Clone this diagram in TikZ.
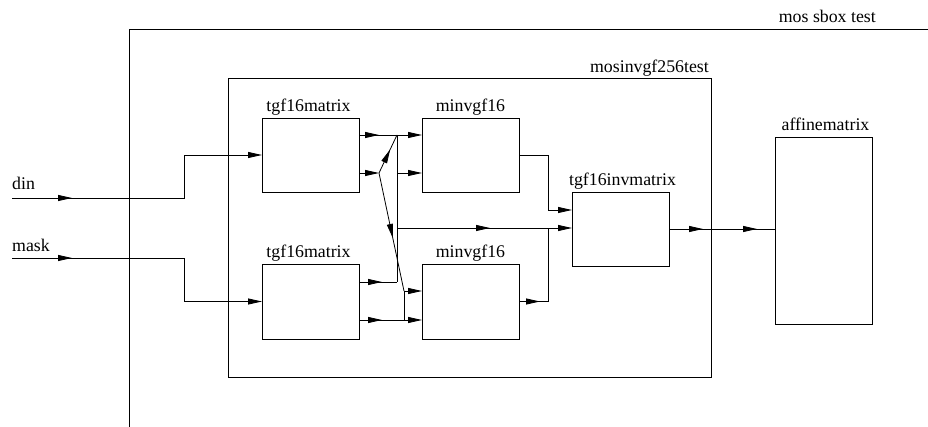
\documentclass[tikz,border=0pt]{standalone}
\usepackage{fontspec}
\setmainfont{Liberation Serif}
\usetikzlibrary{arrows.meta,decorations.markings,calc}
\begin{document}
\begin{tikzpicture}[x=1pt,y=-1pt,
 blk/.style={draw,line width=0.9pt,minimum width=97pt,minimum height=74pt,inner sep=0pt,outer sep=0pt},
 lbl/.style={font=\fontsize{17.8}{21}\selectfont,inner sep=0pt},
 wire/.style={line width=0.8pt},
 ahead/.tip={Triangle[length=14pt,width=6pt]},
 endarr/.style={-ahead},
 am/.style={postaction={decorate},decoration={markings,mark=at position #1 with {\arrow{ahead}}}},
 amm/.style 2 args={postaction={decorate},decoration={markings,mark=at position #1 with {\arrow{ahead}},mark=at position #2 with {\arrow{ahead}}}}
]
\useasboundingbox (0,0) rectangle (928,427);
% frames
\node[draw,line width=0.9pt,anchor=north west,minimum width=900pt,minimum height=500pt,inner sep=0pt] (outer) at (129,29) {};
\node[draw,line width=0.9pt,minimum width=483pt,minimum height=299pt,inner sep=0pt] (mos) at (469.5,227.5) {};
% blocks
\node[blk] (t1) at (310.5,155) {};
\node[blk,minimum height=75pt] (t2) at (310.5,301.5) {};
\node[blk] (m1) at (470.5,155) {};
\node[blk,minimum height=75pt] (m2) at (470.5,301.5) {};
\node[blk] (inv) at (620.5,229) {};
\node[blk,minimum height=187pt] (aff) at (823.5,230.5) {};
% labels
\node[lbl,anchor=base east] (lout) at (876,23) {mos sbox test};
\node[lbl,anchor=base east] (lmos) at (709,73) {mosinvgf256test};
\node[lbl,anchor=base] (lt1) at ($(t1.north)+(-2,-6)$) {tgf16matrix};
\node[lbl,anchor=base] (lt2) at ($(t2.north)+(-2,-6)$) {tgf16matrix};
\node[lbl,anchor=base] (lm1) at ($(m1.north)+(0,-6)$) {minvgf16};
\node[lbl,anchor=base] (lm2) at ($(m2.north)+(0,-6)$) {minvgf16};
\node[lbl,anchor=base] (linv) at ($(inv.north)+(2,-6)$) {tgf16invmatrix};
\node[lbl,anchor=base] (laff) at ($(aff.north)+(2,-6)$) {affinematrix};
\node[lbl,anchor=base west] (ldin) at (12,190) {din};
\node[lbl,anchor=base west] (lmask) at (12,252) {mask};
% junctions
\coordinate (din) at (12,198);
\coordinate (mask) at (12,258);
\coordinate (ja) at (397,135);
\coordinate (jb) at (397,282);
\coordinate (jc) at (379,173);
\coordinate (jd) at (404,291);
\coordinate (je) at (404,320);
\coordinate (jf) at (397,228);
\coordinate (jg) at (548,228);
\coordinate (jk) at (548,210);
% wires
\draw[wire,am=60pt,endarr] (din) -- ++(172,0) |- (t1.west);
\draw[wire,am=60pt,endarr] (mask) -- ++(172,0) |- (t2.west);
\draw[wire,am=20pt,endarr] (t1.east |- ja) -- (m1.west |- ja);
\draw[wire,endarr] (t1.east |- jc) -- (jc);
\draw[wire,am=0.62] (jc) -- (ja);
\draw[wire] (ja) -- (jb);
\draw[wire,am=23pt] (t2.east |- jb) -- (jb);
\draw[wire,endarr] (ja |- jc) -- (m1.west |- jc);
\draw[wire,am=0.55] (jc) -- (jd);
\draw[wire,endarr] (jd) -- (m2.west |- jd);
\draw[wire,am=23pt,endarr] (t2.east |- je) -- (m2.west |- je);
\draw[wire] (jd) -- (je);
\draw[wire,am=93pt,endarr] (jf) -- (inv.west |- jf);
\draw[wire,endarr] (m1.east) -| (jk) -- (inv.west |- jk);
\draw[wire,am=21pt] (m2.east) -| (jg);
\draw[wire,amm={34pt}{88pt}] (inv.east) -- (aff.west |- inv.east);
\end{tikzpicture}
\end{document}
